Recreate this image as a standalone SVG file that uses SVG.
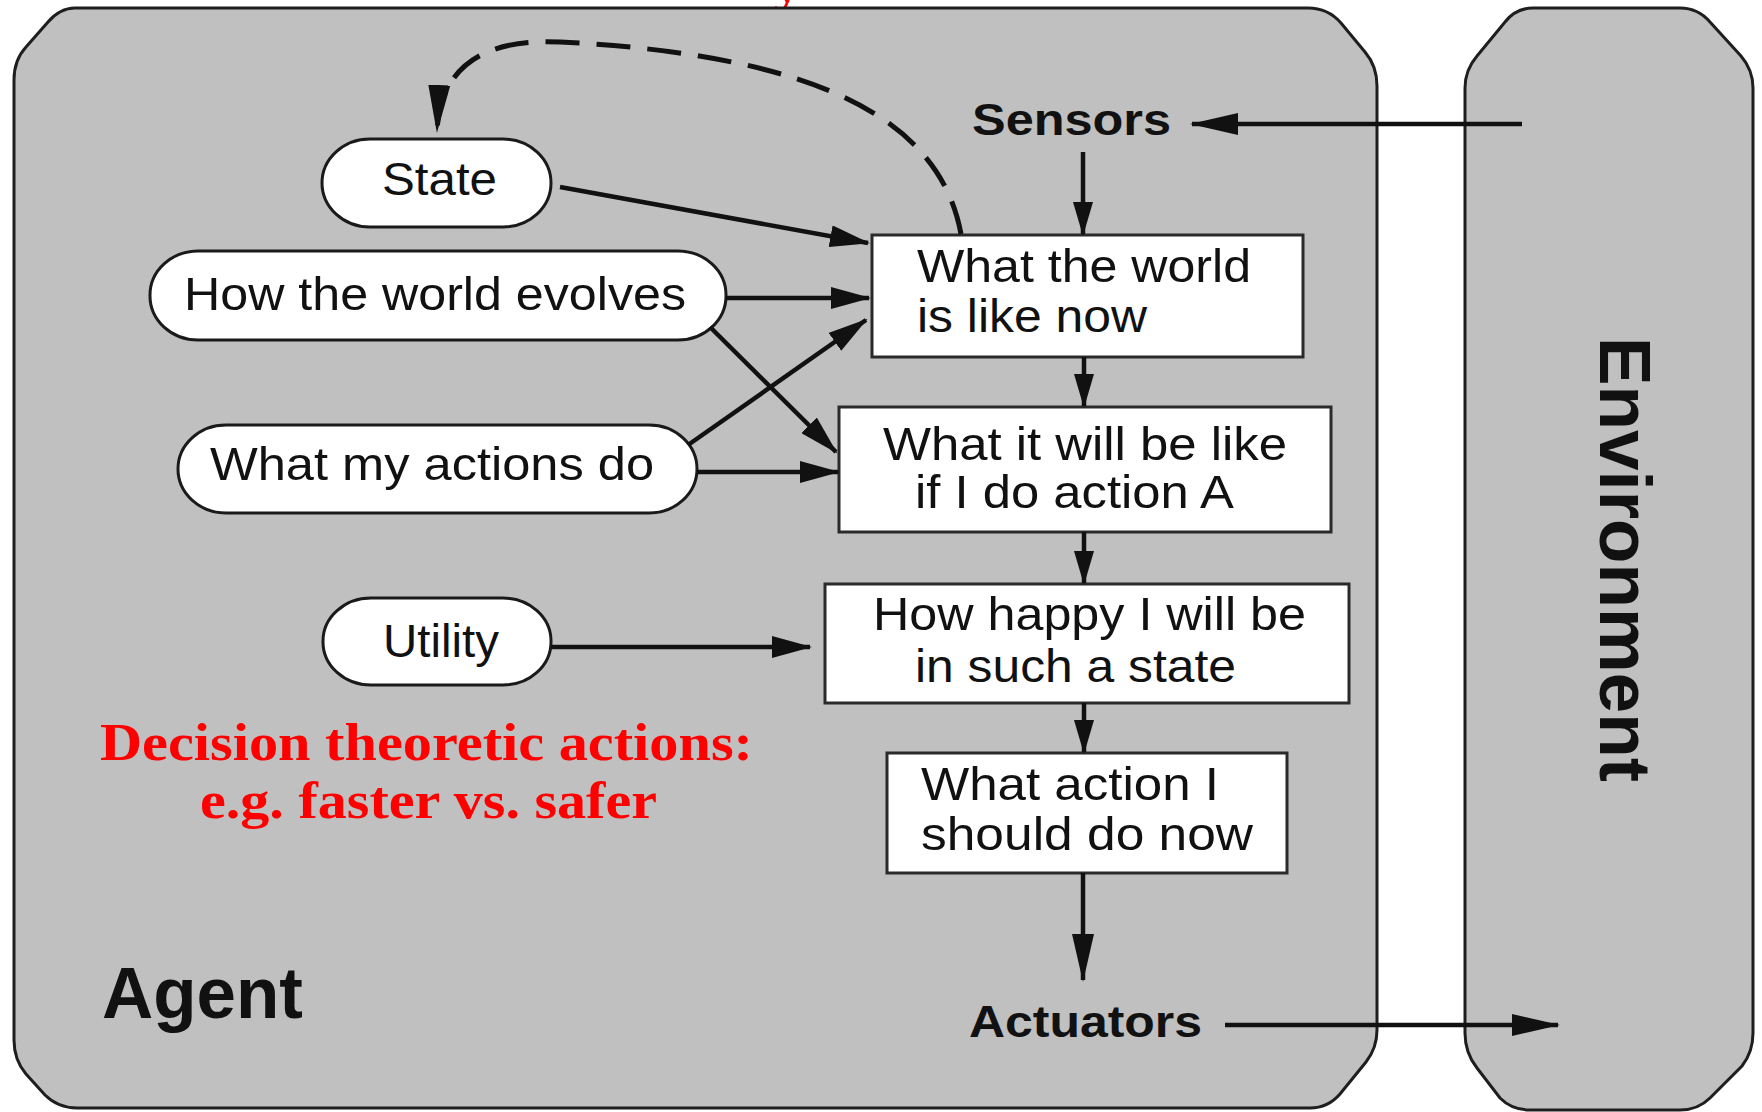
<svg xmlns="http://www.w3.org/2000/svg" width="1762" height="1112" viewBox="0 0 1762 1112">
  <style>
    .panel { fill: #c0c0c0; stroke: #1e1e1e; stroke-width: 3; }
    .pill { fill: #ffffff; stroke: #1a1a1a; stroke-width: 3; }
    .box { fill: #ffffff; stroke: #2a2a2a; stroke-width: 3; }
    .lbl { font-family: "Liberation Sans", Arial, sans-serif; font-size: 46px; fill: #111111; }
    .io { font-family: "Liberation Sans", Arial, sans-serif; font-size: 44px; font-weight: bold; fill: #111111; }
    .big { font-family: "Liberation Sans", Arial, sans-serif; font-size: 72px; font-weight: bold; fill: #111111; }
    .note { font-family: "Liberation Serif", "Times New Roman", serif; font-size: 52px; font-weight: bold; fill: #ff0000; }
    .wire { fill: none; stroke: #111111; stroke-width: 4.5; }
    .dash { fill: none; stroke: #111111; stroke-width: 5; stroke-dasharray: 34 17; }
  </style>
  <defs>
    <marker id="ah" markerUnits="userSpaceOnUse" viewBox="0 0 40 22" markerWidth="40" markerHeight="22" refX="38" refY="11" orient="auto">
      <path d="M0,0 L40,11 L0,22 Z" fill="#111111"/>
    </marker>
    <marker id="ahs" markerUnits="userSpaceOnUse" viewBox="0 0 34 20" markerWidth="34" markerHeight="20" refX="32" refY="10" orient="auto">
      <path d="M0,0 L34,10 L0,20 Z" fill="#111111"/>
    </marker>
    <marker id="ahl" markerUnits="userSpaceOnUse" viewBox="0 0 48 22" markerWidth="48" markerHeight="22" refX="46" refY="11" orient="auto">
      <path d="M0,0 L48,11 L0,22 Z" fill="#111111"/>
    </marker>
  </defs>

  <rect width="1762" height="1112" fill="#ffffff"/>

  <!-- clipped heading glyph above the frame -->
  <text class="note" x="774" y="2">y</text>

  <!-- agent panel -->
  <g id="agent">
    <path class="panel" d="M75,8 L1308,8 Q1328,8 1341,23 L1365,52 Q1377,66 1377,86 L1377,1030 Q1377,1048 1366,1062 L1340,1094 Q1328,1108 1310,1108 L77,1108 Q58,1108 45,1095 L26,1074 Q14,1060 14,1040 L14,80 Q14,60 26,47 L48,22 Q60,8 75,8 Z"/>
    <text class="big" x="102" y="1018" textLength="201" lengthAdjust="spacingAndGlyphs">Agent</text>
  </g>

  <!-- environment panel -->
  <g id="environment">
    <path class="panel" d="M1533,8 L1680,8 Q1698,8 1710,22 L1741,56 Q1753,70 1753,88 L1753,1033 Q1753,1052 1742,1066 L1710,1098 Q1698,1110 1680,1110 L1530,1110 Q1512,1110 1500,1098 L1477,1068 Q1465,1053 1465,1033 L1465,88 Q1465,70 1477,56 L1505,22 Q1516,8 1533,8 Z"/>
    <text class="big" transform="translate(1600,337) rotate(90)" x="0" y="0" textLength="445" lengthAdjust="spacingAndGlyphs">Environment</text>
  </g>

  <!-- sensor / actuator labels -->
  <g id="sensors">
    <text class="io" x="972" y="135" textLength="199" lengthAdjust="spacingAndGlyphs">Sensors</text>
  </g>
  <g id="actuators">
    <text class="io" x="969" y="1037" font-size="46" textLength="233" lengthAdjust="spacingAndGlyphs">Actuators</text>
  </g>

  <!-- rounded knowledge nodes -->
  <g id="state">
    <rect class="pill" x="322" y="139" width="229" height="88" rx="48" ry="44"/>
    <text class="lbl" x="382" y="195" textLength="115" lengthAdjust="spacingAndGlyphs">State</text>
  </g>
  <g id="world-evolves">
    <rect class="pill" x="150" y="251" width="576" height="89" rx="48" ry="44"/>
    <text class="lbl" x="184" y="310" textLength="502" lengthAdjust="spacingAndGlyphs">How the world evolves</text>
  </g>
  <g id="actions-do">
    <rect class="pill" x="178" y="425" width="519" height="88" rx="48" ry="44"/>
    <text class="lbl" x="210" y="480" textLength="444" lengthAdjust="spacingAndGlyphs">What my actions do</text>
  </g>
  <g id="utility">
    <rect class="pill" x="323" y="598" width="228" height="87" rx="48" ry="43"/>
    <text class="lbl" x="383" y="657" textLength="116" lengthAdjust="spacingAndGlyphs">Utility</text>
  </g>

  <!-- reasoning steps -->
  <g id="world-now">
    <rect class="box" x="872" y="235" width="431" height="122"/>
    <text class="lbl" x="917" y="282" textLength="334" lengthAdjust="spacingAndGlyphs">What the world</text>
    <text class="lbl" x="917" y="332" textLength="230" lengthAdjust="spacingAndGlyphs">is like now</text>
  </g>
  <g id="world-next">
    <rect class="box" x="839" y="407" width="492" height="125"/>
    <text class="lbl" x="883" y="460" textLength="404" lengthAdjust="spacingAndGlyphs">What it will be like</text>
    <text class="lbl" x="915" y="508" textLength="319" lengthAdjust="spacingAndGlyphs">if I do action A</text>
  </g>
  <g id="happiness">
    <rect class="box" x="825" y="584" width="524" height="119"/>
    <text class="lbl" x="873" y="630" textLength="433" lengthAdjust="spacingAndGlyphs">How happy I will be</text>
    <text class="lbl" x="915" y="682" textLength="321" lengthAdjust="spacingAndGlyphs">in such a state</text>
  </g>
  <g id="choice">
    <rect class="box" x="887" y="753" width="400" height="120"/>
    <text class="lbl" x="921" y="800" textLength="298" lengthAdjust="spacingAndGlyphs">What action I</text>
    <text class="lbl" x="921" y="850" textLength="332" lengthAdjust="spacingAndGlyphs">should do now</text>
  </g>

  <!-- annotation -->
  <g id="annotation">
    <text class="note" x="100" y="760" textLength="653" lengthAdjust="spacingAndGlyphs">Decision theoretic actions:</text>
    <text class="note" x="200" y="818" textLength="457" lengthAdjust="spacingAndGlyphs">e.g. faster vs. safer</text>
  </g>

  <!-- connectors -->
  <g id="connectors">
    <path class="wire" d="M1522,124 L1192,124" stroke-width="7" stroke="#2a2a2a" marker-end="url(#ahl)"/>
    <path class="wire" d="M1083,152 L1083,234" marker-end="url(#ahs)"/>
    <path class="wire" d="M560,187 L868,243" marker-end="url(#ah)"/>
    <path class="wire" d="M726,298 L869,298" marker-end="url(#ah)"/>
    <path class="wire" d="M688,445 L866,320" marker-end="url(#ah)"/>
    <path class="wire" d="M710,327 L836,452" marker-end="url(#ah)"/>
    <path class="wire" d="M697,472 L838,472" marker-end="url(#ah)"/>
    <path class="wire" d="M1084,357 L1084,406" marker-end="url(#ahs)"/>
    <path class="wire" d="M1084,532 L1084,583" marker-end="url(#ahs)"/>
    <path class="wire" d="M1084,703 L1084,752" marker-end="url(#ahs)"/>
    <path class="wire" d="M551,647 L810,647" marker-end="url(#ah)"/>
    <path class="wire" d="M1083,873 L1083,980" marker-end="url(#ahl)"/>
    <path class="wire" d="M1225,1025 L1558,1025" stroke-width="5.5" marker-end="url(#ahl)"/>
    <path class="dash" d="M961,234 C940,120 820,55 560,42 C480,38 440,70 437,131" marker-end="url(#ahl)"/>
  </g>
</svg>
